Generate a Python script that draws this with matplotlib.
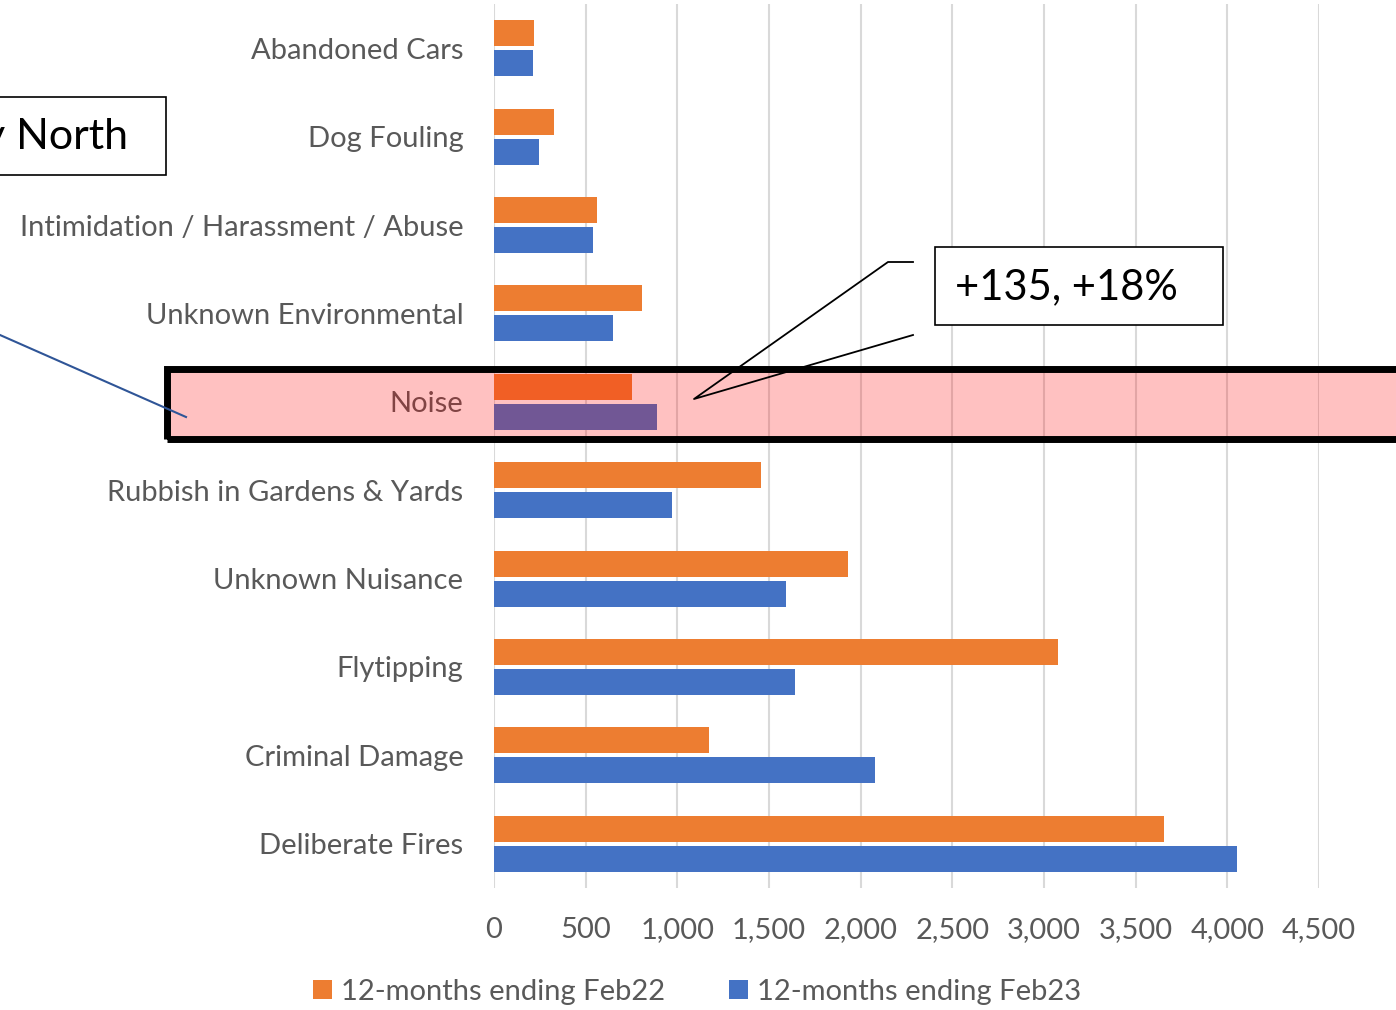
import matplotlib
matplotlib.use("Agg")
import matplotlib.pyplot as plt
from matplotlib.patches import Rectangle
from matplotlib.lines import Line2D

plt.rcParams['font.family'] = ['Lato', 'DejaVu Sans']

# data
categories = ["Abandoned Cars", "Dog Fouling", "Intimidation / Harassment / Abuse",
              "Unknown Environmental", "Noise", "Rubbish in Gardens & Yards",
              "Unknown Nuisance", "Flytipping", "Criminal Damage", "Deliberate Fires"]
feb22 = [218, 327, 562, 807, 753, 1457, 1931, 3077, 1173, 3655]
feb23 = [213, 245, 540, 649, 888, 971, 1593, 1642, 2079, 4053]
series_names = ["12-months ending Feb22", "12-months ending Feb23"]
callout_text = "+135, +18%"
area_text = "y North"

W, H = 1396, 1010
GREY = "#595959"
ORANGE = "#ED7D31"
BLUE = "#4472C4"


def fx(x):
    return x / W


def fy(y):
    return 1 - y / H


fig = plt.figure(figsize=(W / 100, H / 100), dpi=100)
ax = fig.add_axes([fx(494), fy(888), fx(1319) - fx(494), fy(4) - fy(888)])

pos = list(range(len(categories)))
h = 0.295
ax.barh([p - 0.17 for p in pos], feb22, height=h, color=ORANGE, label=series_names[0], zorder=3)
ax.barh([p + 0.17 for p in pos], feb23, height=h, color=BLUE, label=series_names[1], zorder=3)

ax.set_ylim(len(categories) - 0.5, -0.5)
ax.set_xlim(0, 4500)
ax.set_xticks(range(0, 4501, 500))
ax.set_xticklabels([f"{v:,}" for v in range(0, 4501, 500)])
ax.set_yticks(pos)
ax.set_yticklabels(categories)
ax.grid(axis='x', color="#D9D9D9", linewidth=1.5, zorder=0)
ax.set_axisbelow(True)
for s in ax.spines.values():
    s.set_visible(False)
ax.tick_params(axis='both', length=0, labelsize=21, labelcolor=GREY)
ax.tick_params(axis='y', pad=22)
ax.tick_params(axis='x', pad=21)

leg = fig.legend(loc='center', bbox_to_anchor=(fx(697), fy(992)), ncol=2, frameon=False,
                 fontsize=21, handlelength=0.65, handleheight=0.65, handletextpad=0.3,
                 columnspacing=2.2, labelcolor=GREY)

# highlight on the Noise row
fig.add_artist(Rectangle((fx(166.5), fy(439.5)), fx(1500) - fx(166.5), fy(369.5) - fy(439.5),
                         transform=fig.transFigure, facecolor="#FF0303", alpha=0.245,
                         edgecolor='none', zorder=10))
fig.add_artist(Rectangle((fx(166.5), fy(439.5)), fx(1500) - fx(166.5), fy(369.5) - fy(439.5),
                         transform=fig.transFigure, facecolor='none',
                         edgecolor='black', linewidth=5, zorder=11))

# callout box
fig.add_artist(Rectangle((fx(935), fy(325)), fx(1223) - fx(935), fy(247) - fy(325),
                         transform=fig.transFigure, facecolor='white',
                         edgecolor='black', linewidth=1.2, zorder=12))
fig.text(fx(955), fy(287), callout_text, fontsize=30, color='black',
         ha='left', va='center', zorder=13)
fig.add_artist(Line2D([fx(913), fx(888), fx(694), fx(913)],
                      [fy(262), fy(262), fy(399), fy(335)],
                      transform=fig.transFigure, color='black', linewidth=1.3, zorder=12))

# area box top left (cut off at the edge, as in the source)
fig.add_artist(Rectangle((fx(-10), fy(175)), fx(166) - fx(-10), fy(97) - fy(175),
                         transform=fig.transFigure, facecolor='white',
                         edgecolor='black', linewidth=1.2, zorder=12))
fig.text(fx(128), fy(137), area_text, fontsize=31, color='black',
         ha='right', va='center', zorder=13)
fig.add_artist(Line2D([fx(0), fx(186)], [fy(335), fy(417)],
                      transform=fig.transFigure, color="#2F5597", linewidth=1.5, zorder=12))

fig.savefig("out.png", dpi=100)
